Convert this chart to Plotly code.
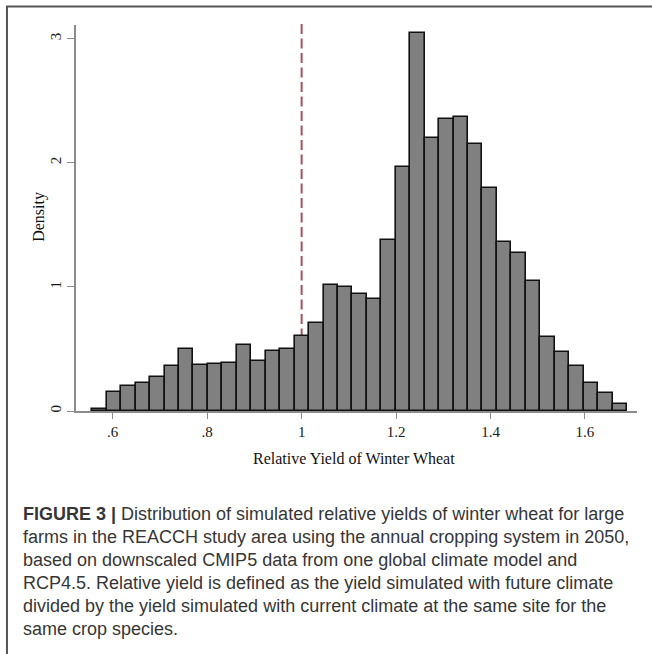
import plotly.graph_objects as go

# ---- data ----
bin_start = 0.5568
bin_width = 0.0306
density = [0.016, 0.153, 0.199, 0.223, 0.274, 0.366, 0.50, 0.369, 0.377, 0.385,
           0.53, 0.403, 0.48, 0.50, 0.608, 0.713, 1.016, 1.00, 0.94, 0.90,
           1.38, 1.97, 3.05, 2.20, 2.35, 2.37, 2.15, 1.80, 1.36, 1.27,
           1.05, 0.60, 0.476, 0.363, 0.229, 0.145, 0.06]
x_tickvals = [0.6, 0.8, 1.0, 1.2, 1.4, 1.6]
x_ticktext = [".6", ".8", "1", "1.2", "1.4", "1.6"]
y_tickvals = [0, 1, 2, 3]
y_ticktext = ["0", "1", "2", "3"]
ref_line_x = 1.0

caption_lines = [
    "<b>FIGURE 3 |</b> Distribution of simulated relative yields of winter wheat for large",
    "farms in the REACCH study area using the annual cropping system in 2050,",
    "based on downscaled CMIP5 data from one global climate model and",
    "RCP4.5. Relative yield is defined as the yield simulated with future climate",
    "divided by the yield simulated with current climate at the same site for the",
    "same crop species.",
]

centers = [bin_start + (i + 0.5) * bin_width for i in range(len(density))]

W, H = 652, 654
L, R, T, B = 76, 636.7, 25, 410.7


def px(x):
    return (x - L) / (R - L)


def py(y):
    return (B - y) / (B - T)


fig = go.Figure()
fig.add_trace(go.Bar(
    x=centers, y=density, width=bin_width,
    marker=dict(color="#808080", line=dict(color="#111111", width=1.6)),
    showlegend=False, hoverinfo="skip",
))

serif = "Liberation Serif"
fig.update_layout(
    width=W, height=H,
    margin=dict(l=L, r=W - R, t=T, b=H - B, pad=0),
    paper_bgcolor="white", plot_bgcolor="white",
    bargap=0,
    xaxis=dict(
        range=[0.5222, 1.7102], tickvals=x_tickvals, ticktext=x_ticktext,
        showline=True, linecolor="#8c8c8c", linewidth=1.5,
        ticks="outside", ticklen=6, tickwidth=1.3, tickcolor="#8c8c8c",
        showgrid=False, zeroline=False,
        tickfont=dict(family=serif, size=15, color="#1a1a1a"),
    ),
    yaxis=dict(
        range=[0, (B - T) / 124.0], tickvals=y_tickvals, ticktext=y_ticktext,
        showline=True, linecolor="#8c8c8c", linewidth=1.5,
        ticks="outside", ticklen=7, tickwidth=1.3, tickcolor="#8c8c8c",
        showgrid=False, zeroline=False, tickangle=-90,
        tickfont=dict(family=serif, size=15, color="#1a1a1a"),
    ),
)

# reference dashed line at relative yield = 1
fig.add_shape(type="line", xref="x", yref="paper", x0=ref_line_x, x1=ref_line_x,
              y0=py(24), y1=0, layer="below",
              line=dict(color="#a9525c", width=2, dash="10px,4.5px"))

# frame (top and left edges visible; others fall outside the page)
fig.add_shape(type="rect", xref="paper", yref="paper", x0=px(7), x1=px(700),
              y0=py(6.5), y1=py(700), line=dict(color="#555555", width=2),
              fillcolor="rgba(0,0,0,0)")

# axis titles
fig.add_annotation(text="Relative Yield of Winter Wheat", xref="paper", yref="paper",
                   x=px(354), y=py(458.3), xanchor="center", yanchor="middle",
                   showarrow=False, font=dict(family=serif, size=16, color="#111111"))
fig.add_annotation(text="Density", xref="paper", yref="paper",
                   x=px(39), y=py(216.7), xanchor="center", yanchor="middle",
                   textangle=-90, showarrow=False,
                   font=dict(family=serif, size=16, color="#111111"))

# caption
cap_centers = [513.5, 536.6, 559.7, 582.3, 605.4, 628.5]
for line, cy in zip(caption_lines, cap_centers):
    fig.add_annotation(text=line, xref="paper", yref="paper",
                       x=px(21), y=py(cy), xanchor="left", yanchor="middle",
                       showarrow=False, align="left",
                       font=dict(family="Liberation Sans", size=18, color="#363636"))

fig.write_html(
    "out.html",
    config={"displayModeBar": False},
    post_script="document.body.style.margin='0';document.body.style.overflow='hidden';",
)
